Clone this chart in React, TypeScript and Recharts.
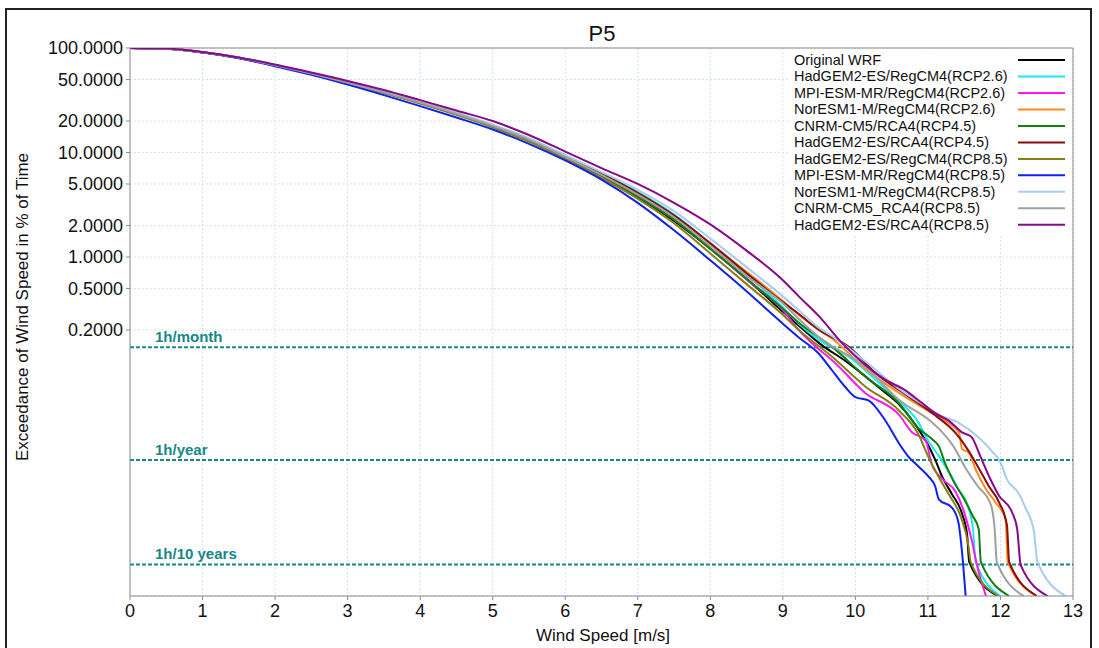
import React from "react";
import {
  LineChart,
  Line,
  XAxis,
  YAxis,
  CartesianGrid,
  ReferenceLine,
} from "recharts";

const speedTicks = [0, 1, 2, 3, 4, 5, 6, 7, 8, 9, 10, 11, 12, 13];
const pctTicks = [0.2, 0.5, 1, 2, 5, 10, 20, 50, 100];

// wind speed [m/s] where the shared part of the curves is read
const bodySpeeds = [0, 0.5, 1, 1.5, 2, 2.5, 3, 3.5, 4, 4.5, 5, 5.5, 6, 6.5, 7, 7.5, 8, 8.5, 9];

// exceedance [% of time] at bodySpeeds
const wrfBody = [100, 98.5, 91.0, 80.5, 68.2, 56.8, 46.3, 37.4, 29.8, 23.3, 17.8, 13.1, 9.0, 6.0, 3.75, 2.21, 1.2, 0.616, 0.3];
const had26Body = [100, 98.6, 91.2, 81.0, 68.8, 57.5, 47.0, 38.1, 30.3, 23.8, 18.3, 13.5, 9.4, 6.4, 4.2, 2.55, 1.35, 0.68, 0.33];
const mpi26Body = [100, 98.5, 91.0, 80.6, 68.3, 56.9, 46.4, 37.5, 29.9, 23.4, 17.9, 13.2, 9.1, 6.0, 3.85, 2.3, 1.2, 0.61, 0.31];
const nor26Body = [100, 98.5, 91.0, 80.6, 68.3, 57.0, 46.5, 37.6, 30.0, 23.5, 18.0, 13.3, 9.1, 6.1, 4.0, 2.45, 1.35, 0.72, 0.38];
const cnrm45Body = [100, 98.5, 91.0, 80.5, 68.2, 56.8, 46.3, 37.4, 29.8, 23.3, 17.8, 13.1, 9.0, 6.0, 3.8, 2.28, 1.2, 0.62, 0.32];
const hadRca45Body = [100, 98.6, 91.2, 80.8, 68.6, 57.3, 46.8, 37.9, 30.2, 23.7, 18.2, 13.5, 9.3, 6.3, 4.1, 2.5, 1.35, 0.7, 0.37];
const had85Body = [100, 98.4, 90.8, 80.2, 67.8, 56.4, 45.9, 37.0, 29.4, 22.9, 17.4, 12.7, 8.7, 5.7, 3.6, 2.1, 1.08, 0.55, 0.28];
const mpi85Body = [100, 98.3, 90.4, 79.6, 67.0, 55.3, 44.6, 35.4, 27.8, 21.6, 16.6, 12.1, 8.4, 5.5, 3.3, 1.8, 0.93, 0.47, 0.23];
const nor85Body = [100, 98.6, 91.3, 81.0, 68.9, 57.6, 47.2, 38.3, 30.5, 24.0, 18.5, 13.7, 9.4, 6.5, 4.4, 2.75, 1.5, 0.8, 0.42];
const cnrm85Body = [100, 98.5, 91.0, 80.6, 68.4, 57.0, 46.5, 37.6, 30.0, 23.5, 18.0, 13.3, 9.1, 6.1, 3.95, 2.4, 1.28, 0.66, 0.36];
const hadRca85Body = [100, 98.7, 91.6, 81.3, 69.4, 58.2, 48.4, 39.6, 31.7, 25.2, 20.0, 14.7, 10.2, 7.1, 5.0, 3.3, 2.05, 1.15, 0.6];

// tails: [wind speed, exceedance %]
const wrfTail = [[9.22, 0.22], [9.5, 0.15], [9.91, 0.096], [10.37, 0.053], [10.6, 0.039], [10.85, 0.0235], [11.0, 0.016], [11.1, 0.0115], [11.2, 0.0078], [11.33, 0.0054], [11.47, 0.0035], [11.54, 0.0022], [11.57, 0.0012], [11.96, 0.00057]];
const had26Tail = [[9.22, 0.23], [9.5, 0.16], [9.91, 0.111], [10.3, 0.065], [10.6, 0.042], [10.87, 0.026], [11.0, 0.0175], [11.15, 0.0125], [11.3, 0.0085], [11.42, 0.006], [11.55, 0.0042], [11.62, 0.0025], [11.66, 0.0012], [12.0, 0.00057]];
const mpi26Tail = [[9.22, 0.2], [9.5, 0.13], [9.68, 0.103], [10.14, 0.0497], [10.6, 0.031], [10.78, 0.021], [10.97, 0.0175], [11.05, 0.0105], [11.2, 0.0075], [11.38, 0.0057], [11.5, 0.0036], [11.6, 0.002], [11.68, 0.0011], [11.8, 0.00057]];
const nor26Tail = [[9.22, 0.28], [9.5, 0.2], [9.68, 0.165], [10.14, 0.085], [10.6, 0.05], [11.06, 0.032], [11.29, 0.0257], [11.43, 0.0207], [11.47, 0.0145], [11.56, 0.0135], [11.66, 0.0092], [11.8, 0.006], [11.93, 0.0045], [12.07, 0.0031], [12.1, 0.0012], [12.5, 0.00057]];
const cnrm45Tail = [[9.22, 0.235], [9.68, 0.138], [10.14, 0.0714], [10.6, 0.04], [10.87, 0.023], [11.06, 0.018], [11.15, 0.0155], [11.24, 0.0105], [11.35, 0.0072], [11.5, 0.0048], [11.62, 0.0033], [11.7, 0.0025], [11.73, 0.0012], [12.12, 0.00057]];
const hadRca45Tail = [[9.22, 0.285], [9.5, 0.2], [9.91, 0.138], [10.3, 0.075], [10.6, 0.0533], [11.06, 0.032], [11.38, 0.0207], [11.52, 0.0154], [11.66, 0.0107], [11.84, 0.0064], [11.98, 0.0045], [12.09, 0.0027], [12.12, 0.0012], [12.5, 0.00057]];
const had85Tail = [[9.22, 0.2], [9.68, 0.111], [10.14, 0.0574], [10.6, 0.034], [10.87, 0.02], [11.0, 0.0125], [11.15, 0.0078], [11.3, 0.0052], [11.45, 0.0033], [11.56, 0.0017], [11.59, 0.0012], [11.97, 0.00057]];
const mpi85Tail = [[9.22, 0.17], [9.5, 0.118], [9.68, 0.082], [9.86, 0.057], [10.0, 0.0457], [10.18, 0.0425], [10.41, 0.0274], [10.6, 0.0165], [10.73, 0.0123], [10.87, 0.0099], [11.01, 0.0079], [11.1, 0.0064], [11.15, 0.0048], [11.33, 0.004], [11.42, 0.0029], [11.47, 0.0015], [11.52, 0.00057]];
const nor85Tail = [[9.22, 0.31], [9.5, 0.21], [9.68, 0.175], [10.14, 0.1], [10.6, 0.055], [11.06, 0.034], [11.15, 0.031], [11.42, 0.026], [11.7, 0.0187], [11.88, 0.0139], [12.0, 0.0108], [12.09, 0.0074], [12.25, 0.0055], [12.35, 0.0039], [12.46, 0.0024], [12.51, 0.0012], [12.9, 0.00057]];
const cnrm85Tail = [[9.22, 0.255], [9.5, 0.17], [10.14, 0.089], [10.6, 0.043], [11.06, 0.026], [11.2, 0.021], [11.35, 0.0155], [11.52, 0.0095], [11.68, 0.0065], [11.87, 0.0042], [11.92, 0.0025], [11.95, 0.0012], [12.32, 0.00057]];
const hadRca85Tail = [[9.22, 0.42], [9.5, 0.27], [9.82, 0.149], [10.14, 0.092], [10.41, 0.067], [10.69, 0.053], [10.92, 0.04], [11.1, 0.032], [11.29, 0.027], [11.47, 0.021], [11.6, 0.019], [11.72, 0.0125], [11.86, 0.0075], [11.98, 0.0052], [12.16, 0.0036], [12.23, 0.0025], [12.28, 0.00112], [12.65, 0.00057]];

// 1h per month / year / 10 years as % of time
const returnLevels = [
  { label: "1h/month", pct: 100 / 730 },
  { label: "1h/year", pct: 100 / 8760 },
  { label: "1h/10 years", pct: 100 / 87600 },
];

const series = [
  { name: "Original WRF", color: "#000000", body: wrfBody, tail: wrfTail },
  { name: "HadGEM2-ES/RegCM4(RCP2.6)", color: "#18e8f0", body: had26Body, tail: had26Tail },
  { name: "MPI-ESM-MR/RegCM4(RCP2.6)", color: "#ff18f0", body: mpi26Body, tail: mpi26Tail },
  { name: "NorESM1-M/RegCM4(RCP2.6)", color: "#ff8a20", body: nor26Body, tail: nor26Tail },
  { name: "CNRM-CM5/RCA4(RCP4.5)", color: "#108010", body: cnrm45Body, tail: cnrm45Tail },
  { name: "HadGEM2-ES/RCA4(RCP4.5)", color: "#8a0c0c", body: hadRca45Body, tail: hadRca45Tail },
  { name: "HadGEM2-ES/RegCM4(RCP8.5)", color: "#858010", body: had85Body, tail: had85Tail },
  { name: "MPI-ESM-MR/RegCM4(RCP8.5)", color: "#1020f0", body: mpi85Body, tail: mpi85Tail },
  { name: "NorESM1-M/RegCM4(RCP8.5)", color: "#a8cbf0", body: nor85Body, tail: nor85Tail },
  { name: "CNRM-CM5_RCA4(RCP8.5)", color: "#a0a0a0", body: cnrm85Body, tail: cnrm85Tail },
  { name: "HadGEM2-ES/RCA4(RCP8.5)", color: "#880888", body: hadRca85Body, tail: hadRca85Tail },
];

const FONT = "'Liberation Sans', Arial, sans-serif";
const TEAL = "#178787";
const AXIS = "#8c8c8c";

function toPoints(body: number[], tail: number[][]) {
  const pts = body.map((y, i) => ({ x: bodySpeeds[i], y }));
  return pts.concat(tail.map(([x, y]) => ({ x, y })));
}

function LevelLabel(props: any) {
  const { viewBox, text } = props;
  if (!viewBox) return null;
  return (
    <text
      x={viewBox.x + 25}
      y={viewBox.y - 5}
      fill={TEAL}
      fontSize={15}
      fontWeight="bold"
      fontFamily={FONT}
    >
      {text}
    </text>
  );
}

export default function App() {
  return (
    <div
      style={{
        position: "absolute",
        left: 0,
        top: 0,
        width: 1099,
        height: 648,
        overflow: "hidden",
        background: "#fff",
      }}
    >
      <LineChart
        width={1099}
        height={648}
        margin={{ top: 48, right: 26, bottom: 0, left: 0 }}
      >
        <CartesianGrid stroke="#cfe0f6" strokeDasharray="2 2" />
        <XAxis
          type="number"
          dataKey="x"
          domain={[0, 13]}
          ticks={speedTicks}
          allowDataOverflow
          height={52}
          stroke={AXIS}
          tickSize={4}
          tickMargin={4}
          tick={{ fill: "#111", fontSize: 18, fontFamily: FONT }}
        />
        <YAxis
          type="number"
          dataKey="y"
          scale="log"
          domain={[0.00057, 100]}
          ticks={pctTicks}
          allowDataOverflow
          width={130}
          stroke={AXIS}
          tickSize={4}
          tickMargin={3}
          tickFormatter={(v: number) => v.toFixed(4)}
          tick={{ fill: "#111", fontSize: 18, fontFamily: FONT }}
        />
        <ReferenceLine y={100} stroke={AXIS} />
        <ReferenceLine x={13} stroke={AXIS} />
        {returnLevels.map((r) => (
          <ReferenceLine
            key={r.label}
            y={r.pct}
            stroke={TEAL}
            strokeWidth={2}
            strokeDasharray="4 2"
            label={<LevelLabel text={r.label} />}
          />
        ))}
        {series.map((s) => (
          <Line
            key={s.name}
            data={toPoints(s.body, s.tail)}
            dataKey="y"
            name={s.name}
            type="monotone"
            stroke={s.color}
            strokeWidth={2}
            dot={false}
            isAnimationActive={false}
          />
        ))}
      </LineChart>

      <svg
        width={1099}
        height={648}
        style={{ position: "absolute", left: 0, top: 0, pointerEvents: "none" }}
        fontFamily={FONT}
      >
        <text x={602} y={41} textAnchor="middle" fontSize={22} fill="#111">
          P5
        </text>
        <text x={603} y={641} textAnchor="middle" fontSize={17} fill="#111">
          Wind Speed [m/s]
        </text>
        <text
          x={0}
          y={0}
          transform="translate(28 307) rotate(-90)"
          textAnchor="middle"
          fontSize={17}
          fill="#111"
        >
          Exceedance of Wind Speed in % of Time
        </text>
        <rect x={790} y={49} width={282} height={186} fill="#fff" />
        {series.map((s, i) => {
          const cy = 60 + i * 16.48;
          return (
            <g key={s.name}>
              <text x={794} y={cy + 5} fontSize={14.5} fill="#111">
                {s.name}
              </text>
              <line x1={1018} x2={1065} y1={cy} y2={cy} stroke={s.color} strokeWidth={2} />
            </g>
          );
        })}
      </svg>

      <div
        style={{
          position: "absolute",
          left: 5,
          top: 8,
          width: 1087,
          height: 700,
          border: "2px solid #222",
          boxSizing: "border-box",
          pointerEvents: "none",
        }}
      />
    </div>
  );
}
